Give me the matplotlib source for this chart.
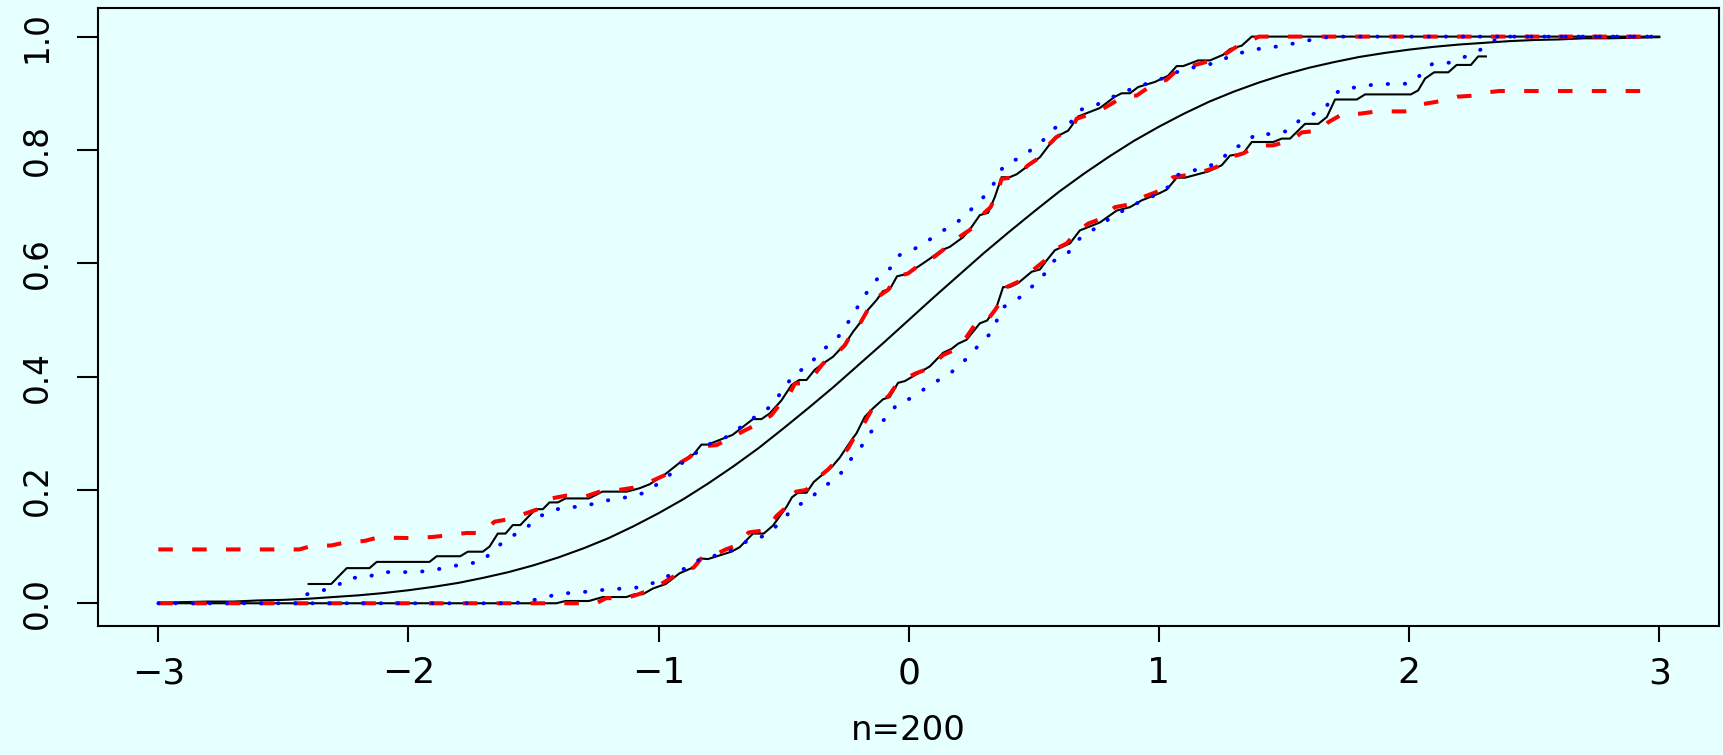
import matplotlib
matplotlib.use("Agg")
import matplotlib.pyplot as plt

# smooth reference curve
cdf_x = [-3.0, -2.9, -2.8, -2.7, -2.6, -2.5, -2.4, -2.3, -2.2, -2.1, -2.0, -1.9, -1.8, -1.7, -1.6,
         -1.5, -1.4, -1.3, -1.2, -1.1, -1.0, -0.9, -0.8, -0.7, -0.6, -0.5, -0.4, -0.3, -0.2, -0.1,
         0.0, 0.1, 0.2, 0.3, 0.4, 0.5, 0.6, 0.7, 0.8, 0.9, 1.0, 1.1, 1.2, 1.3, 1.4, 1.5, 1.6, 1.7,
         1.8, 1.9, 2.0, 2.1, 2.2, 2.3, 2.4, 2.5, 2.6, 2.7, 2.8, 2.9, 3.0]
cdf_y = [0.001, 0.002, 0.003, 0.003, 0.005, 0.006, 0.008, 0.011, 0.014, 0.018, 0.023, 0.029, 0.036,
         0.045, 0.055, 0.067, 0.081, 0.097, 0.115, 0.136, 0.159, 0.184, 0.212, 0.242, 0.274, 0.309,
         0.345, 0.382, 0.421, 0.460, 0.500, 0.540, 0.579, 0.618, 0.655, 0.691, 0.726, 0.758, 0.788,
         0.816, 0.841, 0.864, 0.885, 0.903, 0.919, 0.933, 0.945, 0.955, 0.964, 0.971, 0.977, 0.982,
         0.986, 0.989, 0.992, 0.994, 0.995, 0.997, 0.997, 0.998, 0.999]

# black solid band
black_up_x = [-2.399, -2.309, -2.247, -2.156, -2.127, -1.916, -1.887, -1.793, -1.763, -1.703, -1.676,
              -1.643, -1.612, -1.583, -1.553, -1.492, -1.463, -1.436, -1.403, -1.372, -1.279, -1.225,
              -1.127, -1.076, -1.036, -0.976, -0.916, -0.883, -0.860, -0.829, -0.803, -0.729, -0.705,
              -0.623, -0.589, -0.556, -0.509, -0.469, -0.438, -0.409, -0.376, -0.343, -0.303, -0.256,
              -0.223, -0.193, -0.163, -0.129, -0.103, -0.076, -0.047, -0.009, 0.044, 0.084, 0.131,
              0.164, 0.217, 0.251, 0.284, 0.317, 0.344, 0.371, 0.404, 0.431, 0.471, 0.524, 0.584,
              0.637, 0.677, 0.764, 0.824, 0.851, 0.884, 0.917, 0.984, 1.037, 1.071, 1.097, 1.157,
              1.204, 1.257, 1.284, 1.331, 1.371, 3.0]
black_up_y = [0.034, 0.034, 0.062, 0.062, 0.073, 0.073, 0.083, 0.083, 0.091, 0.091, 0.100,
              0.123, 0.123, 0.138, 0.138, 0.166, 0.166, 0.178, 0.178, 0.185, 0.185, 0.197,
              0.197, 0.203, 0.210, 0.227, 0.248, 0.257, 0.263, 0.280, 0.280, 0.293, 0.297,
              0.325, 0.325, 0.335, 0.358, 0.385, 0.394, 0.394, 0.412, 0.423, 0.435, 0.457,
              0.479, 0.496, 0.518, 0.535, 0.551, 0.554, 0.577, 0.581, 0.596, 0.608, 0.623,
              0.629, 0.646, 0.664, 0.685, 0.689, 0.717, 0.752, 0.752, 0.757, 0.770, 0.787, 0.822,
              0.834, 0.859, 0.874, 0.894, 0.900, 0.900, 0.911, 0.920, 0.931, 0.948, 0.948, 0.958,
              0.958, 0.968, 0.978, 0.984, 1.0, 1.0]

black_lo_x = [-3.0, -1.409, -1.372, -1.279, -1.223, -1.129, -1.096, -1.063, -1.023, -0.972, -0.916,
              -0.863, -0.832, -0.803, -0.709, -0.676, -0.623, -0.580, -0.543, -0.489, -0.467, -0.443,
              -0.409, -0.380, -0.305, -0.276, -0.229, -0.209, -0.176, -0.143, -0.103, -0.076, -0.043,
              -0.016, 0.084, 0.137, 0.171, 0.197, 0.231, 0.284, 0.313, 0.351, 0.377, 0.404, 0.437,
              0.491, 0.524, 0.551, 0.584, 0.644, 0.684, 0.764, 0.831, 0.884, 0.931, 1.004, 1.031,
              1.071, 1.104, 1.197, 1.251, 1.284, 1.337, 1.371, 1.457, 1.491, 1.524, 1.584, 1.637,
              1.671, 1.704, 1.791, 1.824, 2.007, 2.036, 2.064, 2.100, 2.157, 2.190, 2.247, 2.276, 2.307]
black_lo_y = [0.0, 0.0, 0.004, 0.004, 0.011, 0.011, 0.016, 0.016, 0.026, 0.034, 0.053,
              0.063, 0.079, 0.078, 0.091, 0.099, 0.123, 0.123, 0.137, 0.170, 0.187, 0.195,
              0.195, 0.214, 0.242, 0.257, 0.288, 0.300, 0.329, 0.344, 0.360, 0.364, 0.389,
              0.392, 0.418, 0.442, 0.449, 0.458, 0.465, 0.494, 0.499, 0.523, 0.558, 0.558, 0.565,
              0.585, 0.589, 0.605, 0.623, 0.635, 0.658, 0.672, 0.693, 0.699, 0.711, 0.724, 0.730,
              0.751, 0.751, 0.762, 0.773, 0.790, 0.794, 0.814, 0.814, 0.820, 0.820, 0.846, 0.846,
              0.858, 0.889, 0.889, 0.898, 0.898, 0.905, 0.926, 0.937, 0.937, 0.950, 0.950, 0.965, 0.965]

# red dashed band
red_up_x = [-3.0, -2.436, -2.389, -2.309, -2.256, -2.176, -2.123, -1.983, -1.903, -1.843, -1.769,
            -1.709, -1.656, -1.603, -1.536, -1.476, -1.429, -1.369, -1.289, -1.229, -1.159, -1.100,
            -1.036, -0.976, -0.929, -0.879, -0.829, -0.769, -0.703, -0.656, -0.596, -0.549, -0.509,
            -0.476, -0.455, -0.429, -0.389, -0.343, -0.296, -0.256, -0.229, -0.192, -0.165, -0.127,
            -0.083, -0.052, -0.003, 0.057, 0.104, 0.164, 0.204, 0.251, 0.284, 0.327, 0.353, 0.371,
            0.424, 0.477, 0.517, 0.557, 0.591, 0.651, 0.671, 0.751, 0.797, 0.857, 0.911, 0.977,
            1.031, 1.077, 1.137, 1.211, 1.257, 1.317, 1.364, 1.400, 3.0]
red_up_y = [0.095, 0.095, 0.101, 0.102, 0.107, 0.110, 0.116, 0.115, 0.117, 0.120, 0.124,
            0.124, 0.144, 0.148, 0.158, 0.167, 0.185, 0.190, 0.189, 0.198, 0.200, 0.204,
            0.214, 0.226, 0.244, 0.257, 0.277, 0.279, 0.294, 0.305, 0.318, 0.332, 0.355,
            0.370, 0.388, 0.388, 0.397, 0.423, 0.438, 0.455, 0.476, 0.496, 0.517, 0.540,
            0.553, 0.576, 0.582, 0.602, 0.612, 0.633, 0.647, 0.661, 0.682, 0.699, 0.723, 0.749,
            0.752, 0.773, 0.785, 0.808, 0.823, 0.837, 0.855, 0.867, 0.878, 0.894, 0.896, 0.916,
            0.924, 0.943, 0.949, 0.958, 0.967, 0.984, 0.993, 1.0, 1.0]

red_lo_x = [-3.0, -1.25, -1.21, -1.13, -1.08, -1.02, -0.953, -0.903, -0.86, -0.83, -0.80, -0.732,
            -0.683, -0.64, -0.57, -0.529, -0.489, -0.465, -0.45, -0.41, -0.367, -0.323, -0.276,
            -0.243, -0.209, -0.183, -0.149, -0.113, -0.08, -0.06, -0.036, 0.024, 0.077, 0.137,
            0.177, 0.231, 0.271, 0.313, 0.344, 0.371, 0.391, 0.451, 0.497, 0.544, 0.577, 0.631,
            0.671, 0.717, 0.771, 0.824, 0.884, 0.944, 0.997, 1.057, 1.104, 1.171, 1.231, 1.284,
            1.337, 1.397, 1.455, 1.531, 1.571, 1.644, 1.677, 1.737, 1.804, 1.871, 1.99, 2.057,
            2.136, 2.193, 2.267, 2.321, 2.36, 3.0]
red_lo_y = [0.0, 0.0, 0.009, 0.009, 0.016, 0.026, 0.044, 0.057, 0.063, 0.079, 0.080, 0.095,
            0.103, 0.125, 0.129, 0.154, 0.170, 0.192, 0.197, 0.200, 0.220, 0.236, 0.257,
            0.273, 0.300, 0.314, 0.341, 0.355, 0.366, 0.379, 0.391, 0.405, 0.414, 0.438,
            0.446, 0.470, 0.496, 0.499, 0.517, 0.535, 0.558, 0.570, 0.588, 0.605, 0.623, 0.635,
            0.655, 0.670, 0.679, 0.699, 0.704, 0.718, 0.727, 0.752, 0.755, 0.761, 0.770, 0.787,
            0.794, 0.808, 0.808, 0.817, 0.831, 0.834, 0.849, 0.864, 0.864, 0.868, 0.868, 0.881,
            0.887, 0.894, 0.896, 0.902, 0.904, 0.904]

# blue dotted band
blue_up_x = [-2.405, -2.348, -2.288, -2.24, -2.17, -2.11, -1.97, -1.905, -1.84, -1.78, -1.71,
             -1.67, -1.63, -1.58, -1.53, -1.49, -1.44, -1.376, -1.305, -1.243, -1.177, -1.112,
             -1.049, -1.0, -0.952, -0.908, -0.859, -0.817, -0.756, -0.699, -0.653, -0.603, -0.553,
             -0.519, -0.487, -0.452, -0.399, -0.367, -0.319, -0.276, -0.245, -0.216, -0.185, -0.156,
             -0.119, -0.072, -0.045, 0.013, 0.068, 0.119, 0.173, 0.224, 0.263, 0.304, 0.337, 0.36,
             0.392, 0.453, 0.499, 0.545, 0.585, 0.648, 0.679, 0.744, 0.801, 0.86, 0.924, 0.984,
             1.044, 1.101, 1.171, 1.237, 1.291, 1.355, 1.417, 1.484, 1.551, 1.617, 1.686, 3.0]
blue_up_y = [0.016, 0.022, 0.030, 0.045, 0.045, 0.055, 0.055, 0.058, 0.064, 0.069, 0.073,
             0.089, 0.105, 0.120, 0.132, 0.150, 0.161, 0.170, 0.170, 0.178, 0.184, 0.188,
             0.196, 0.212, 0.228, 0.247, 0.262, 0.278, 0.287, 0.301, 0.318, 0.332, 0.347,
             0.367, 0.387, 0.407, 0.418, 0.438, 0.456, 0.473, 0.494, 0.515, 0.536, 0.557,
             0.576, 0.592, 0.613, 0.623, 0.637, 0.653, 0.667, 0.682, 0.702, 0.719, 0.738, 0.760,
             0.777, 0.787, 0.804, 0.820, 0.839, 0.849, 0.870, 0.878, 0.891, 0.902, 0.914, 0.920,
             0.933, 0.942, 0.949, 0.954, 0.968, 0.974, 0.980, 0.983, 0.989, 0.995, 1.0, 1.0]

blue_lo_x = [-3.0, -1.6, -1.532, -1.469, -1.403, -1.336, -1.265, -1.199, -1.127, -1.060, -0.999,
             -0.940, -0.881, -0.828, -0.763, -0.700, -0.645, -0.585, -0.535, -0.493, -0.453, -0.399,
             -0.359, -0.305, -0.261, -0.232, -0.193, -0.165, -0.127, -0.079, -0.049, 0.004, 0.055,
             0.108, 0.164, 0.208, 0.251, 0.284, 0.327, 0.351, 0.368, 0.415, 0.467, 0.507, 0.547,
             0.579, 0.635, 0.667, 0.707, 0.768, 0.812, 0.867, 0.917, 0.984, 1.035, 1.068, 1.131,
             1.195, 1.252, 1.287, 1.347, 1.385, 1.455, 1.519, 1.561, 1.615, 1.667, 1.692, 1.735,
             1.801, 1.867, 2.004, 2.05, 2.093, 2.161, 2.221, 2.274, 2.321, 2.36, 3.0]
blue_lo_y = [0.0, 0.0, 0.002, 0.009, 0.016, 0.019, 0.021, 0.025, 0.026, 0.029, 0.040,
             0.053, 0.064, 0.080, 0.085, 0.095, 0.110, 0.118, 0.134, 0.153, 0.171, 0.182,
             0.200, 0.216, 0.234, 0.254, 0.274, 0.295, 0.315, 0.330, 0.351, 0.361, 0.376,
             0.391, 0.405, 0.423, 0.439, 0.459, 0.476, 0.498, 0.520, 0.532, 0.546, 0.566, 0.583,
             0.604, 0.617, 0.637, 0.653, 0.666, 0.683, 0.695, 0.707, 0.720, 0.734, 0.755, 0.763,
             0.770, 0.783, 0.802, 0.811, 0.828, 0.828, 0.834, 0.852, 0.863, 0.874, 0.896, 0.908,
             0.911, 0.916, 0.917, 0.934, 0.952, 0.954, 0.964, 0.974, 0.986, 1.0, 1.0]

x_ticks = [-3, -2, -1, 0, 1, 2, 3]
y_ticks = [0.0, 0.2, 0.4, 0.6, 0.8, 1.0]
x_label = "n=200"

bg = "#E6FFFF"
plt.rcParams["font.family"] = ["DejaVu Sans"]

fig = plt.figure(figsize=(17.23, 7.55), dpi=100, facecolor=bg)
ax = fig.add_axes([0.05705, 0.1702, 0.9408, 0.8196], facecolor=bg)

ax.plot(cdf_x, cdf_y, color="black", lw=1.5)
ax.plot(black_up_x, black_up_y, color="black", lw=1.5)
ax.plot(black_lo_x, black_lo_y, color="black", lw=1.5)

for xs, ys in [(red_up_x, red_up_y), (red_lo_x, red_lo_y)]:
    ax.plot(xs, ys, color="#FF0000", lw=2.9, dashes=(3.6, 4.8))

for xs, ys in [(blue_up_x, blue_up_y), (blue_lo_x, blue_lo_y)]:
    ax.plot(xs, ys, color="#0000FF", lw=2.8, dashes=(0.1, 4.3),
            dash_capstyle="round")

ax.set_xlim(-3.24, 3.24)
ax.set_ylim(-0.041, 1.051)
ax.set_xticks(x_ticks)
ax.set_xticklabels(["\u2212" + str(-t) if t < 0 else str(t) for t in x_ticks])
ax.set_yticks(y_ticks)
ax.set_yticklabels([f"{t:.1f}" for t in y_ticks], rotation=90, va="center", ha="center")

for s in ax.spines.values():
    s.set_linewidth(1.5)
ax.tick_params(axis="x", length=11.5, width=1.5, labelsize=26, pad=10)
ax.tick_params(axis="y", length=15, width=1.5, labelsize=23.5, pad=29)

ax.set_xlabel(x_label, fontsize=24.5, labelpad=17)

fig.savefig("out.png", dpi=100, facecolor=bg)
